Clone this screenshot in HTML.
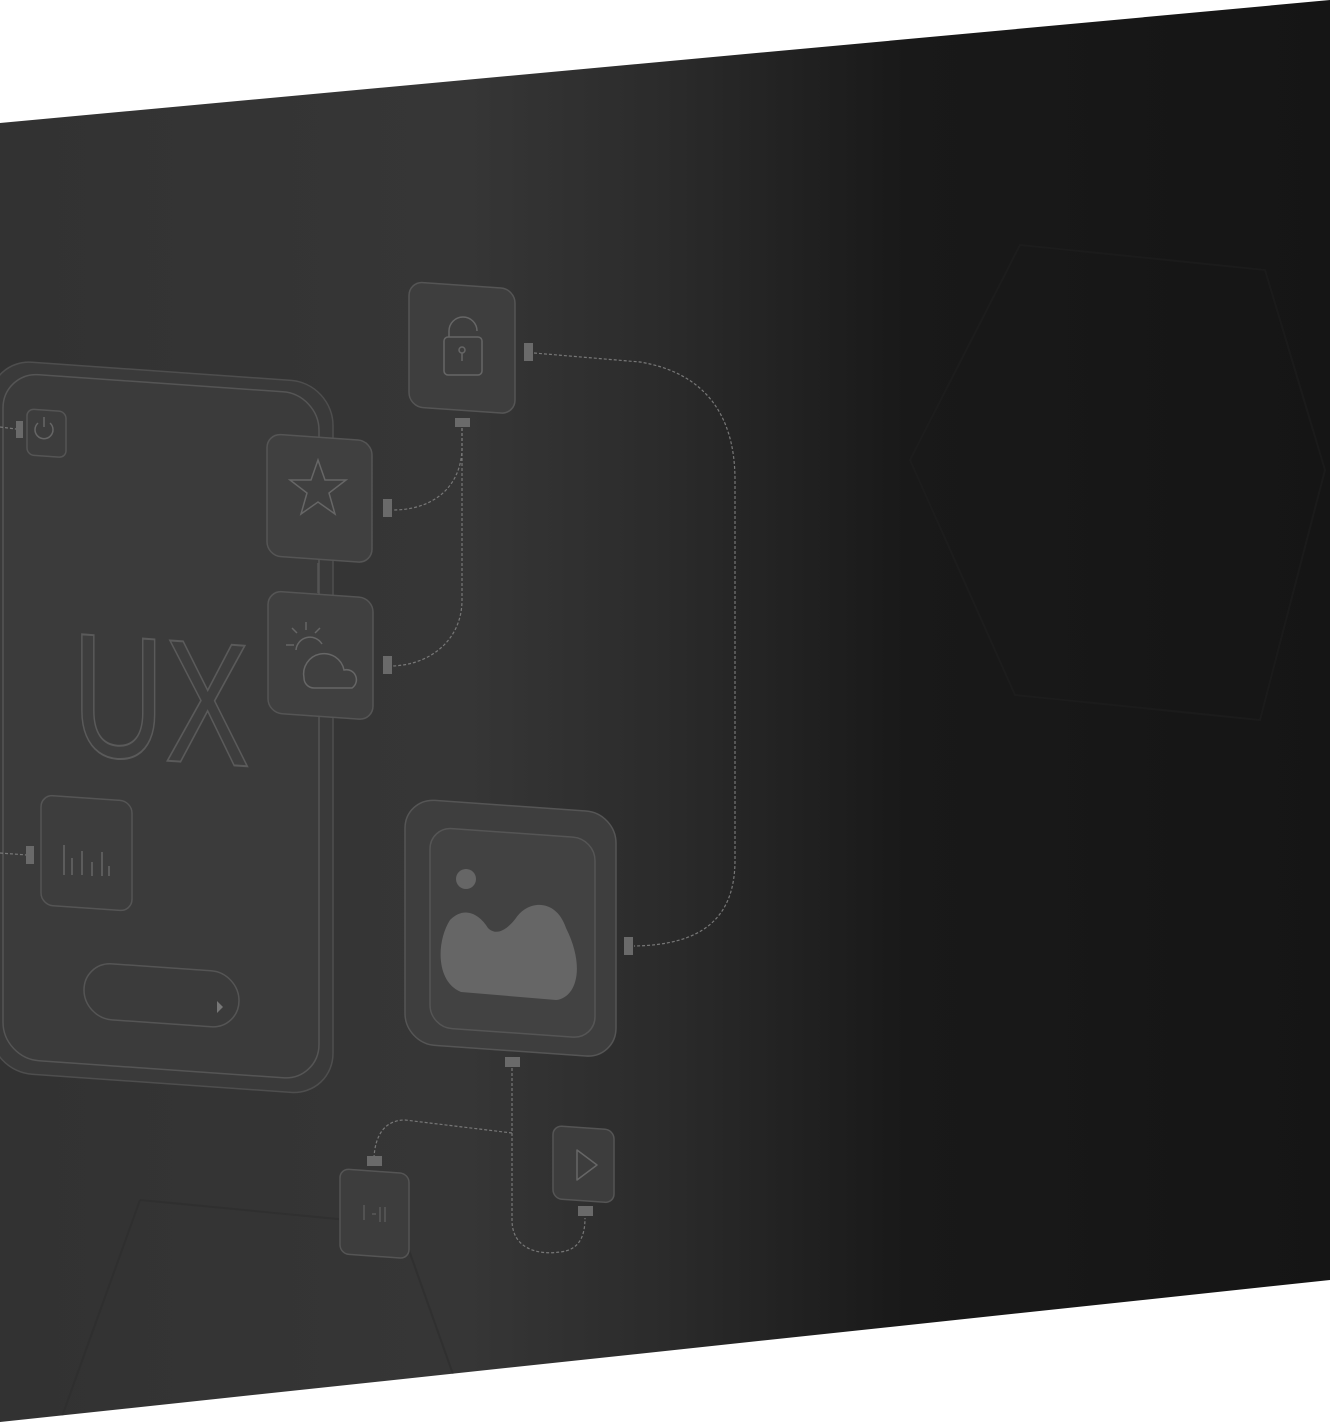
<!DOCTYPE html>
<html><head><meta charset="utf-8"><style>
html,body{margin:0;padding:0;background:#fff;}
svg{display:block;}
</style></head><body>
<svg width="1330" height="1422" viewBox="0 0 1330 1422" xmlns="http://www.w3.org/2000/svg">
<defs>
<linearGradient id="bg" x1="0" y1="0" x2="1330" y2="0" gradientUnits="userSpaceOnUse">
<stop offset="0" stop-color="#323232"/>
<stop offset="0.35" stop-color="#363636"/>
<stop offset="0.5" stop-color="#2b2b2b"/>
<stop offset="0.68" stop-color="#191919"/>
<stop offset="1" stop-color="#151515"/>
</linearGradient>
<clipPath id="cp"><polygon points="0,123 1330,0 1330,1280 0,1422"/></clipPath>
</defs>
<polygon points="0,123 1330,0 1330,1280 0,1422" fill="url(#bg)"/>
<g clip-path="url(#cp)" fill="none" stroke="#1f1f1f" stroke-width="2" opacity="0.5">
<polygon points="1020,245 1265,270 1325,470 1260,720 1015,695 910,460"/>
</g>
<g clip-path="url(#cp)" fill="none" stroke="#2d2d2d" stroke-width="2" opacity="0.6">
<polyline points="140,1200 400,1225 470,1422"/>
<polyline points="140,1200 60,1422"/>
</g>
<g fill="none" stroke="#555" stroke-width="1.5">
<g transform="skewY(4)">
<rect x="-10" y="360" width="343" height="712" rx="42" fill="#3a3a3a" stroke="#4e4e4e"/>
<rect x="3" y="372" width="316" height="686" rx="36" fill="#3b3b3b"/>
<rect x="27" y="407" width="39" height="46" rx="7" fill="#3d3d3d"/>
<rect x="41" y="792" width="91" height="110" rx="12" fill="#3d3d3d"/>
<rect x="84" y="956" width="155" height="56" rx="28"/>
</g>
<path d="M38,423 a9,9 0 1 0 12,0 M44,417 v10" stroke="#666"/>
<g stroke="#666"><path d="M64,845v30M72,858v17M82,851v24M92,862v14M102,852v24M109,866v10"/></g>
<path d="M217,1001 l6,6 l-6,6z" fill="#777" stroke="none"/>
<text x="72" y="757" font-family="Liberation Sans, sans-serif" font-size="175" textLength="178" lengthAdjust="spacingAndGlyphs" fill="#3e3e3e" stroke="#5a5a5a" stroke-width="2" transform="skewY(4) translate(0,-8)">UX</text>
<g transform="skewY(4)">
<rect x="267" y="415" width="105" height="122" rx="14" fill="#404040"/>
<rect x="268" y="572" width="105" height="122" rx="14" fill="#404040"/>
<rect x="409" y="253" width="106" height="125" rx="14" fill="#3e3e3e"/>
<rect x="405" y="770" width="211" height="245" rx="30" fill="#3e3e3e"/>
<rect x="430" y="797" width="165" height="200" rx="22" fill="#424242"/>
<rect x="553" y="1087" width="61" height="73" rx="9" fill="#3d3d3d"/>
<rect x="340" y="1145" width="69" height="85" rx="9" fill="#3d3d3d"/>
</g>
<path d="M318,460 l7,20 h21 l-17,13 l6,21 l-17,-12 l-17,12 l6,-21 l-17,-13 h21z" stroke="#666"/>
<path d="M304,678 a14,14 0 0 1 40,-8 a10,10 0 0 1 8,18 h-38 a10,10 0 0 1 -10,-10z M296,650 a14,14 0 0 1 26,-6" stroke="#666"/>
<g stroke="#666"><path d="M306,622v8M292,628l5,5M286,645h8M320,628l-5,5"/></g>
<rect x="444" y="337" width="38" height="38" rx="4" stroke="#666"/>
<path d="M449,337 v-6 a14,14 0 0 1 28,0" stroke="#666"/>
<circle cx="462" cy="350" r="3" stroke="#666"/><path d="M462,353v8" stroke="#666"/>
<circle cx="466" cy="879" r="10" fill="#666" stroke="none"/>
<path d="M450,920 c15,-15 30,-5 38,8 c10,10 22,-2 28,-10 c12,-18 40,-20 50,10 c20,40 10,70 -10,72 l-95,-8 c-25,-10 -25,-50 -11,-72z" fill="#666" stroke="none"/>
<path d="M577,1150 l20,15 l-20,15z" stroke="#666" stroke-linejoin="round"/>
<path d="M364,1205v15M372,1214h4M380,1207v15M385,1207v15" stroke="#5a5a5a"/>
<path d="M318,563v30" stroke="#555"/>
</g>
<g fill="none" stroke="#777" stroke-width="1.2" stroke-dasharray="3,2">
<path d="M534,353 L640,362 C700,372 735,410 735,480 L735,860 C735,920 700,945 634,946"/>
<path d="M462,428 L462,450 C460,490 430,510 393,510"/>
<path d="M462,428 L462,600 C462,640 430,665 392,666"/>
<path d="M512,1068 L512,1220 C512,1250 540,1255 560,1252 C580,1250 585,1235 585,1218"/>
<path d="M512,1133 L405,1120 C385,1120 375,1135 374,1158"/>
<path d="M0,427 L16,429"/>
<path d="M0,853 L27,855"/>
</g>
<g fill="#6a6a6a">
<rect x="524" y="343" width="9" height="18"/>
<rect x="455" y="418" width="15" height="9"/>
<rect x="383" y="499" width="9" height="18"/>
<rect x="383" y="656" width="9" height="18"/>
<rect x="16" y="421" width="7" height="17"/>
<rect x="26" y="846" width="8" height="18"/>
<rect x="624" y="937" width="9" height="18"/>
<rect x="505" y="1057" width="15" height="10"/>
<rect x="367" y="1156" width="15" height="10"/>
<rect x="578" y="1206" width="15" height="10"/>
</g>
</svg>
</body></html>
